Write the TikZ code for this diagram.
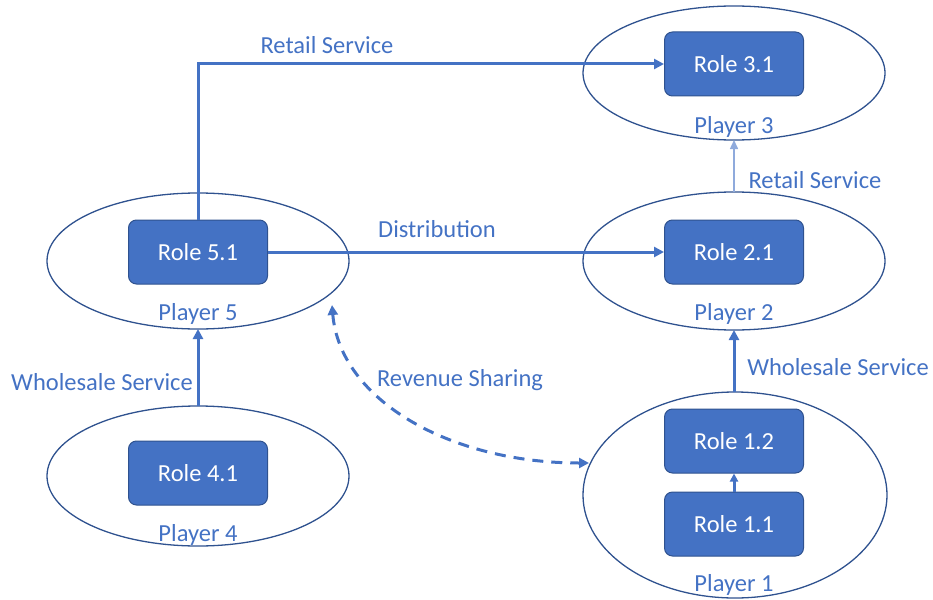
\documentclass[tikz,border=0pt]{standalone}
\usepackage{fontspec}
\setmainfont{Carlito}
\usetikzlibrary{arrows.meta}
\definecolor{mblue}{HTML}{4472C4}
\definecolor{dblue}{HTML}{2F528F}
\definecolor{lblue}{HTML}{8FAADC}
\tikzset{
  rolebox/.style={draw=dblue, line width=1pt, fill=mblue, rounded corners=8pt, minimum width=139pt, minimum height=64pt, text=white, font=\fontsize{24.5}{28}\selectfont, inner sep=0pt},
  lbl/.style={text=mblue, font=\fontsize{24.5}{28}\selectfont, inner sep=0pt},
  conn/.style={draw=mblue, line width=3pt, -{Triangle[length=10pt,width=10pt]}},
  ell/.style={draw=dblue, line width=1.3pt},
}
\begin{document}
\begin{tikzpicture}[x=1pt,y=-1pt]
\useasboundingbox (0,0) rectangle (933,599);
% ellipses
\draw[ell] (734,73) ellipse [x radius=151, y radius=67];
\draw[ell] (734,261) ellipse [x radius=151, y radius=69];
\draw[ell] (198,261) ellipse [x radius=151, y radius=68];
\draw[ell] (198,476) ellipse [x radius=151, y radius=70];
\draw[ell] (735,495) ellipse [x radius=152, y radius=103];
\coordinate (p3b) at (734,140);
\coordinate (p2t) at (734,192);
\coordinate (p2b) at (734,330);
\coordinate (p1t) at (734,392);
\coordinate (p5b) at (198,329);
\coordinate (p4t) at (198,406);
\coordinate (p5r) at (332,305);
\coordinate (p1l) at (589,463);
% roles
\node[rolebox] (r31) at (734,64) {Role 3.1};
\node[rolebox] (r21) at (734,252) {Role 2.1};
\node[rolebox] (r51) at (198,252) {Role 5.1};
\node[rolebox] (r41) at (198,473) {Role 4.1};
\node[rolebox] (r12) at (734,441) {Role 1.2};
\node[rolebox] (r11) at (734,524) {Role 1.1};
% player labels
\node[lbl] (l3) at (734,127) {Player 3};
\node[lbl] (l2) at (734,314) {Player 2};
\node[lbl] (l5) at (198,314) {Player 5};
\node[lbl] (l4) at (198,535) {Player 4};
\node[lbl] (l1) at (734,585) {Player 1};
% connectors
\draw[conn] (r51.north) |- (r31.west);
\draw[conn] (r51.east) -- (r21.west);
\draw[conn, draw=lblue, line width=1.5pt, -{Triangle[length=9pt,width=8pt]}] (p2t) -- (p3b);
\draw[conn] (p1t) -- (p2b);
\draw[conn] (p4t) -- (p5b);
\draw[conn, -{Triangle[length=8pt,width=8pt]}] (r11.north) -- (r12.south);
\draw[conn, dash pattern=on 11pt off 8pt, {Triangle[length=10pt,width=10pt]}-{Triangle[length=10pt,width=10pt]}] (p5r) .. controls (340,400) and (450,463) .. (p1l);
% connector labels
\node[lbl] (t1) at (327,45) {Retail Service};
\node[lbl] (t2) at (437,229) {Distribution};
\node[lbl] (t3) at (815,180) {Retail Service};
\node[lbl] (t4) at (838,367) {Wholesale Service};
\node[lbl] (t5) at (102,382) {Wholesale Service};
\node[lbl] (t6) at (460,380) {Revenue Sharing};
\end{tikzpicture}
\end{document}
